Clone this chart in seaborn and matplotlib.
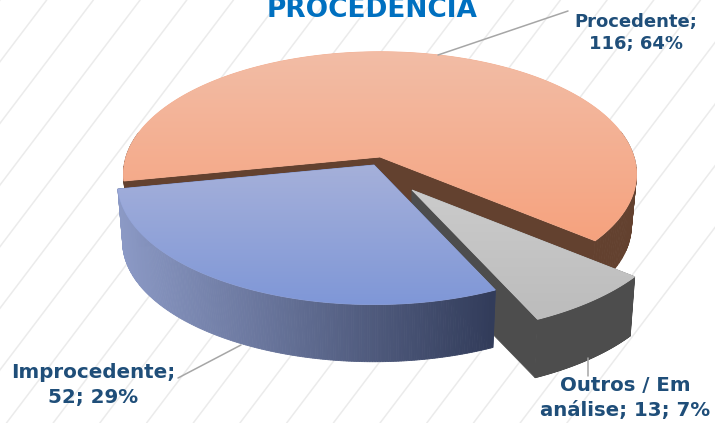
import numpy as np
import matplotlib
matplotlib.use('Agg')
import matplotlib.pyplot as plt
import seaborn as sns
from matplotlib.patches import Polygon

# Values from the chart
categories = ['Procedente', 'Improcedente', 'Outros / Em análise']
counts = [116, 52, 13]
labels = ['Procedente;\n116; 64%', 'Improcedente;\n52; 29%', 'Outros / Em\nanálise; 13; 7%']
title = 'PROCEDENCIA'

# Look of the fake 3D pie (pixels)
start_angle = -39.5
cx, cy = 380, 157
rx, ry, persp = 254, 120, 0.14
shrink = 0.98
offsets = [(0, 0), (-6, 8), (32, 33)]
scales = [1, 1, 1.035]
depths = [52, 60, 61]
top_colors = [('#f2bda6', '#f6a27e'), ('#a5b0da', '#7f97d7'), ('#cbcbcb', '#bcbcbc')]
side_colors = [('#63412f', '#63412f'), ('#8c9ac6', '#323c5a'), ('#4d4d4d', '#4d4d4d')]

sns.set_theme(style='white')
plt.rcParams['font.family'] = ['DejaVu Sans']

fig = plt.figure(figsize=(7.15, 4.23), dpi=100)
ax = fig.add_axes([0, 0, 1, 1])
ax.axis('off')


def project(theta):
    x, y = np.cos(theta), np.sin(theta)
    w = 1 + persp * y
    return rx * x / w, -ry * y / w


# Diagonal background lines
for k in range(-2, 20):
    x0 = 46.7 * k
    ax.plot([x0, x0 - 423 / 1.32], [0, 423], color='#ebebeb', lw=1.1, zorder=0)

# Slice angles come from the counts
fractions = np.array(counts) / sum(counts)
edges = np.radians(start_angle + 360 * np.concatenate([[0], np.cumsum(fractions)]))


def draw_slice(i, z):
    ox, oy = cx + offsets[i][0], cy + offsets[i][1]
    d = depths[i]
    theta = np.linspace(edges[i], edges[i + 1], 200)
    px, py = project(theta)
    px, py = px * scales[i], py * scales[i]
    top = np.column_stack([np.r_[0, px] + ox, np.r_[0, py] + oy])
    bot = np.column_stack([np.r_[0, px] * shrink + ox, np.r_[0, py] * shrink + oy + d])
    cmap = sns.blend_palette(side_colors[i], as_cmap=True)

    # cut walls
    for b in (1, len(top) - 1):
        wall = [top[0], top[b], bot[b], bot[0]]
        ax.add_patch(Polygon(wall, fc=cmap(0.9), ec=cmap(0.9), lw=0.5, zorder=z))

    # outer rim, shaded along x; the back of the rim is hidden anyway
    for n in range(1, len(top) - 1):
        if top[n, 1] < oy - 25:
            continue
        quad = [top[n], top[n + 1], bot[n + 1], bot[n]]
        t = np.clip((top[n, 0] - 116) / (493 - 116), 0, 1)
        ax.add_patch(Polygon(quad, fc=cmap(t), ec=cmap(t), lw=0.6, zorder=z + 0.1))

    # top face with a vertical gradient
    grad = sns.blend_palette(top_colors[i], as_cmap=True)
    ax.add_patch(Polygon(top, fc=grad(0.5), ec=grad(0.5), lw=0.6, zorder=z + 0.15))
    face = Polygon(top, fc='none', ec='none', zorder=z + 0.2)
    ax.add_patch(face)
    ymin, ymax = top[:, 1].min(), top[:, 1].max()
    xmin, xmax = top[:, 0].min(), top[:, 0].max()
    im = ax.imshow(np.linspace(0, 1, 256)[:, None], cmap=grad, aspect='auto',
                   extent=(xmin, xmax, ymax, ymin), zorder=z + 0.2)
    im.set_clip_path(face)


draw_slice(0, 1)
draw_slice(2, 2)
draw_slice(1, 3)

ax.set_xlim(0, 715)
ax.set_ylim(423, 0)

# Leader lines
ax.plot([438, 568], [55, 11], color='#a6a6a6', lw=1.1, zorder=1.5)
ax.plot([241, 178], [345, 378], color='#a6a6a6', lw=1.1, zorder=1.5)
ax.plot([588, 588], [358, 376], color='#a6a6a6', lw=1.1, zorder=5)

# Text
ax.text(372, 17, title, color='#0070c0', fontsize=19, fontweight='bold',
        ha='center', va='baseline', zorder=6)
label_pos = [(636, 33), (93, 385), (625, 398)]
label_sizes = [13, 14.3, 14.2]
for lab, (tx, ty), size in zip(labels, label_pos, label_sizes):
    ax.text(tx, ty, lab, color='#1f4e79', fontsize=size, fontweight='bold',
            ha='center', va='center', linespacing=1.35, zorder=6)

fig.savefig('out.png', dpi=100)
